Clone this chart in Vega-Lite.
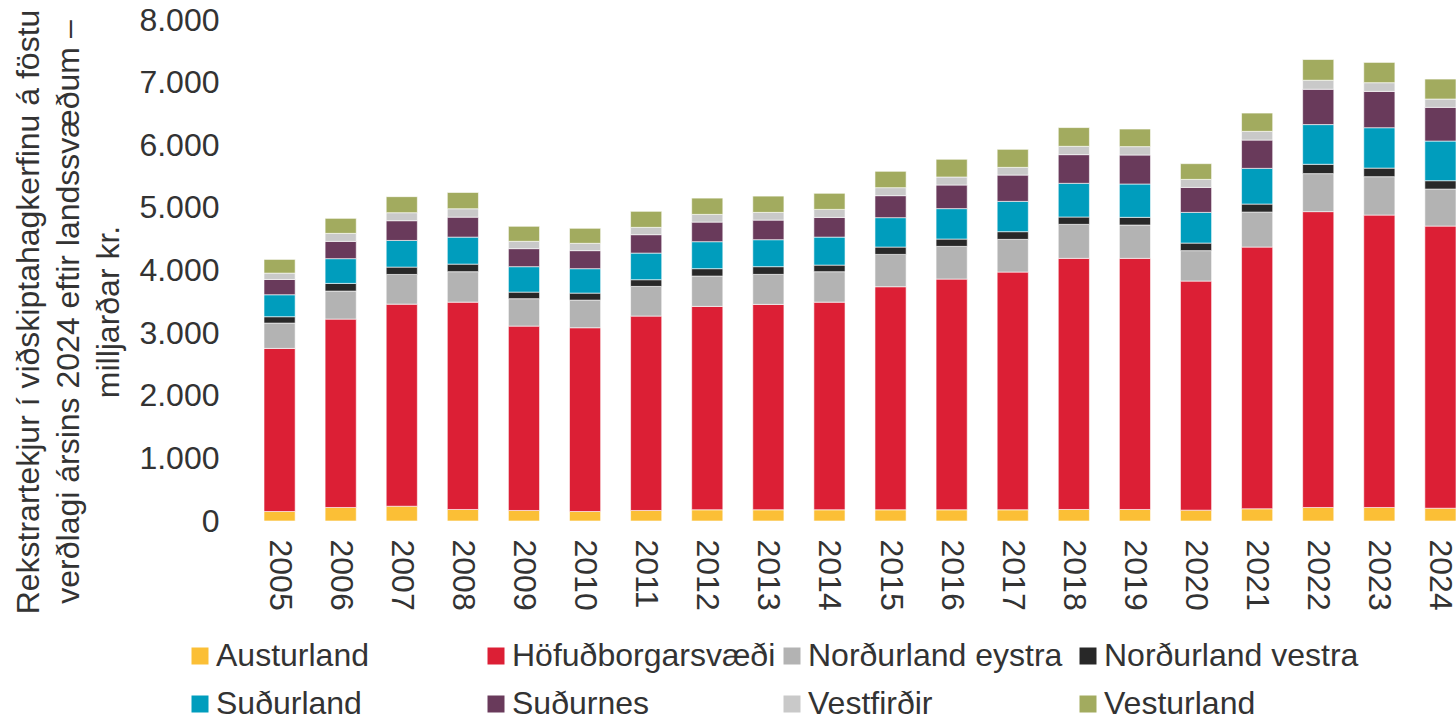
{
  "$schema": "https://vega.github.io/schema/vega-lite/v6.json",
  "width": 1192,
  "height": 501,
  "autosize": {"type": "none"},
  "padding": {"left": 264, "top": 20, "right": 0, "bottom": 199},
  "background": "white",
  "config": {"view": {"stroke": null}, "font": "Liberation Sans"},
  "data": {"values": [
    {"year": 2005, "region": "Austurland", "value": 152},
    {"year": 2005, "region": "Höfuðborgarsvæði", "value": 2604},
    {"year": 2005, "region": "Norðurland eystra", "value": 404},
    {"year": 2005, "region": "Norðurland vestra", "value": 102},
    {"year": 2005, "region": "Suðurland", "value": 351},
    {"year": 2005, "region": "Suðurnes", "value": 244},
    {"year": 2005, "region": "Vestfirðir", "value": 101},
    {"year": 2005, "region": "Vesturland", "value": 219},
    {"year": 2006, "region": "Austurland", "value": 216},
    {"year": 2006, "region": "Höfuðborgarsvæði", "value": 3008},
    {"year": 2006, "region": "Norðurland eystra", "value": 447},
    {"year": 2006, "region": "Norðurland vestra", "value": 123},
    {"year": 2006, "region": "Suðurland", "value": 395},
    {"year": 2006, "region": "Suðurnes", "value": 276},
    {"year": 2006, "region": "Vestfirðir", "value": 128},
    {"year": 2006, "region": "Vesturland", "value": 240},
    {"year": 2007, "region": "Austurland", "value": 236},
    {"year": 2007, "region": "Höfuðborgarsvæði", "value": 3227},
    {"year": 2007, "region": "Norðurland eystra", "value": 474},
    {"year": 2007, "region": "Norðurland vestra", "value": 117},
    {"year": 2007, "region": "Suðurland", "value": 426},
    {"year": 2007, "region": "Suðurnes", "value": 315},
    {"year": 2007, "region": "Vestfirðir", "value": 128},
    {"year": 2007, "region": "Vesturland", "value": 256},
    {"year": 2008, "region": "Austurland", "value": 184},
    {"year": 2008, "region": "Höfuðborgarsvæði", "value": 3311},
    {"year": 2008, "region": "Norðurland eystra", "value": 486},
    {"year": 2008, "region": "Norðurland vestra", "value": 121},
    {"year": 2008, "region": "Suðurland", "value": 431},
    {"year": 2008, "region": "Suðurnes", "value": 319},
    {"year": 2008, "region": "Vestfirðir", "value": 134},
    {"year": 2008, "region": "Vesturland", "value": 260},
    {"year": 2009, "region": "Austurland", "value": 168},
    {"year": 2009, "region": "Höfuðborgarsvæði", "value": 2944},
    {"year": 2009, "region": "Norðurland eystra", "value": 438},
    {"year": 2009, "region": "Norðurland vestra", "value": 105},
    {"year": 2009, "region": "Suðurland", "value": 406},
    {"year": 2009, "region": "Suðurnes", "value": 288},
    {"year": 2009, "region": "Vestfirðir", "value": 117},
    {"year": 2009, "region": "Vesturland", "value": 240},
    {"year": 2010, "region": "Austurland", "value": 152},
    {"year": 2010, "region": "Höfuðborgarsvæði", "value": 2934},
    {"year": 2010, "region": "Norðurland eystra", "value": 441},
    {"year": 2010, "region": "Norðurland vestra", "value": 112},
    {"year": 2010, "region": "Suðurland", "value": 390},
    {"year": 2010, "region": "Suðurnes", "value": 288},
    {"year": 2010, "region": "Vestfirðir", "value": 117},
    {"year": 2010, "region": "Vesturland", "value": 240},
    {"year": 2011, "region": "Austurland", "value": 168},
    {"year": 2011, "region": "Höfuðborgarsvæði", "value": 3104},
    {"year": 2011, "region": "Norðurland eystra", "value": 474},
    {"year": 2011, "region": "Norðurland vestra", "value": 107},
    {"year": 2011, "region": "Suðurland", "value": 425},
    {"year": 2011, "region": "Suðurnes", "value": 294},
    {"year": 2011, "region": "Vestfirðir", "value": 117},
    {"year": 2011, "region": "Vesturland", "value": 256},
    {"year": 2012, "region": "Austurland", "value": 179},
    {"year": 2012, "region": "Höfuðborgarsvæði", "value": 3248},
    {"year": 2012, "region": "Norðurland eystra", "value": 484},
    {"year": 2012, "region": "Norðurland vestra", "value": 118},
    {"year": 2012, "region": "Suðurland", "value": 431},
    {"year": 2012, "region": "Suðurnes", "value": 313},
    {"year": 2012, "region": "Vestfirðir", "value": 123},
    {"year": 2012, "region": "Vesturland", "value": 260},
    {"year": 2013, "region": "Austurland", "value": 179},
    {"year": 2013, "region": "Höfuðborgarsvæði", "value": 3280},
    {"year": 2013, "region": "Norðurland eystra", "value": 479},
    {"year": 2013, "region": "Norðurland vestra", "value": 123},
    {"year": 2013, "region": "Suðurland", "value": 431},
    {"year": 2013, "region": "Suðurnes", "value": 313},
    {"year": 2013, "region": "Vestfirðir", "value": 123},
    {"year": 2013, "region": "Vesturland", "value": 260},
    {"year": 2014, "region": "Austurland", "value": 179},
    {"year": 2014, "region": "Höfuðborgarsvæði", "value": 3316},
    {"year": 2014, "region": "Norðurland eystra", "value": 486},
    {"year": 2014, "region": "Norðurland vestra", "value": 105},
    {"year": 2014, "region": "Suðurland", "value": 447},
    {"year": 2014, "region": "Suðurnes", "value": 315},
    {"year": 2014, "region": "Vestfirðir", "value": 128},
    {"year": 2014, "region": "Vesturland", "value": 256},
    {"year": 2015, "region": "Austurland", "value": 179},
    {"year": 2015, "region": "Höfuðborgarsvæði", "value": 3562},
    {"year": 2015, "region": "Norðurland eystra", "value": 516},
    {"year": 2015, "region": "Norðurland vestra", "value": 117},
    {"year": 2015, "region": "Suðurland", "value": 470},
    {"year": 2015, "region": "Suðurnes", "value": 351},
    {"year": 2015, "region": "Vestfirðir", "value": 128},
    {"year": 2015, "region": "Vesturland", "value": 260},
    {"year": 2016, "region": "Austurland", "value": 179},
    {"year": 2016, "region": "Höfuðborgarsvæði", "value": 3684},
    {"year": 2016, "region": "Norðurland eystra", "value": 522},
    {"year": 2016, "region": "Norðurland vestra", "value": 117},
    {"year": 2016, "region": "Suðurland", "value": 486},
    {"year": 2016, "region": "Suðurnes", "value": 377},
    {"year": 2016, "region": "Vestfirðir", "value": 128},
    {"year": 2016, "region": "Vesturland", "value": 283},
    {"year": 2017, "region": "Austurland", "value": 179},
    {"year": 2017, "region": "Höfuðborgarsvæði", "value": 3796},
    {"year": 2017, "region": "Norðurland eystra", "value": 522},
    {"year": 2017, "region": "Norðurland vestra", "value": 123},
    {"year": 2017, "region": "Suðurland", "value": 484},
    {"year": 2017, "region": "Suðurnes", "value": 420},
    {"year": 2017, "region": "Vestfirðir", "value": 123},
    {"year": 2017, "region": "Vesturland", "value": 288},
    {"year": 2018, "region": "Austurland", "value": 184},
    {"year": 2018, "region": "Höfuðborgarsvæði", "value": 4010},
    {"year": 2018, "region": "Norðurland eystra", "value": 543},
    {"year": 2018, "region": "Norðurland vestra", "value": 117},
    {"year": 2018, "region": "Suðurland", "value": 538},
    {"year": 2018, "region": "Suðurnes", "value": 458},
    {"year": 2018, "region": "Vestfirðir", "value": 133},
    {"year": 2018, "region": "Vesturland", "value": 299},
    {"year": 2019, "region": "Austurland", "value": 184},
    {"year": 2019, "region": "Höfuðborgarsvæði", "value": 4010},
    {"year": 2019, "region": "Norðurland eystra", "value": 532},
    {"year": 2019, "region": "Norðurland vestra", "value": 123},
    {"year": 2019, "region": "Suðurland", "value": 532},
    {"year": 2019, "region": "Suðurnes", "value": 463},
    {"year": 2019, "region": "Vestfirðir", "value": 134},
    {"year": 2019, "region": "Vesturland", "value": 281},
    {"year": 2020, "region": "Austurland", "value": 173},
    {"year": 2020, "region": "Höfuðborgarsvæði", "value": 3658},
    {"year": 2020, "region": "Norðurland eystra", "value": 486},
    {"year": 2020, "region": "Norðurland vestra", "value": 121},
    {"year": 2020, "region": "Suðurland", "value": 490},
    {"year": 2020, "region": "Suðurnes", "value": 399},
    {"year": 2020, "region": "Vestfirðir", "value": 128},
    {"year": 2020, "region": "Vesturland", "value": 251},
    {"year": 2021, "region": "Austurland", "value": 195},
    {"year": 2021, "region": "Höfuðborgarsvæði", "value": 4179},
    {"year": 2021, "region": "Norðurland eystra", "value": 559},
    {"year": 2021, "region": "Norðurland vestra", "value": 128},
    {"year": 2021, "region": "Suðurland", "value": 570},
    {"year": 2021, "region": "Suðurnes", "value": 452},
    {"year": 2021, "region": "Vestfirðir", "value": 139},
    {"year": 2021, "region": "Vesturland", "value": 292},
    {"year": 2022, "region": "Austurland", "value": 216},
    {"year": 2022, "region": "Höfuðborgarsvæði", "value": 4724},
    {"year": 2022, "region": "Norðurland eystra", "value": 607},
    {"year": 2022, "region": "Norðurland vestra", "value": 149},
    {"year": 2022, "region": "Suðurland", "value": 634},
    {"year": 2022, "region": "Suðurnes", "value": 564},
    {"year": 2022, "region": "Vestfirðir", "value": 144},
    {"year": 2022, "region": "Vesturland", "value": 331},
    {"year": 2023, "region": "Austurland", "value": 216},
    {"year": 2023, "region": "Höfuðborgarsvæði", "value": 4669},
    {"year": 2023, "region": "Norðurland eystra", "value": 613},
    {"year": 2023, "region": "Norðurland vestra", "value": 137},
    {"year": 2023, "region": "Suðurland", "value": 645},
    {"year": 2023, "region": "Suðurnes", "value": 580},
    {"year": 2023, "region": "Vestfirðir", "value": 139},
    {"year": 2023, "region": "Vesturland", "value": 324},
    {"year": 2024, "region": "Austurland", "value": 204},
    {"year": 2024, "region": "Höfuðborgarsvæði", "value": 4505},
    {"year": 2024, "region": "Norðurland eystra", "value": 591},
    {"year": 2024, "region": "Norðurland vestra", "value": 134},
    {"year": 2024, "region": "Suðurland", "value": 633},
    {"year": 2024, "region": "Suðurnes", "value": 538},
    {"year": 2024, "region": "Vestfirðir", "value": 133},
    {"year": 2024, "region": "Vesturland", "value": 319}
  ]},
  "mark": {"type": "bar", "stroke": "#ffffff", "strokeWidth": 0.6},
  "encoding": {
    "x": {
      "field": "year", "type": "ordinal",
      "scale": {"paddingInner": 0.49, "paddingOuter": 0},
      "axis": {"title": null, "labelAngle": 90, "labelAlign": "left", "labelBaseline": "middle", "labelPadding": 18, "ticks": false, "domain": false, "labelFontSize": 32, "labelColor": "#333333", "labelFont": "Liberation Sans"}
    },
    "y": {
      "field": "value", "type": "quantitative", "stack": "zero",
      "scale": {"domain": [0, 8000]},
      "axis": {
        "values": [0, 1000, 2000, 3000, 4000, 5000, 6000, 7000, 8000],
        "grid": false, "domain": false, "ticks": false, "labelPadding": 45,
        "labelFontSize": 32, "labelColor": "#333333", "labelFont": "Liberation Sans",
        "labelExpr": "replace(format(datum.value, ','), ',', '.')",
        "title": ["Rekstrartekjur í viðskiptahagkerfinu á föstu", "verðlagi ársins 2024 eftir landssvæðum –", "milljarðar kr."],
        "titleFontSize": 32, "titleFontWeight": "normal", "titleColor": "#333333", "titleFont": "Liberation Sans",
        "titleX": -251, "titleY": 291.5, "titleAngle": -90, "titleAlign": "center", "titleBaseline": "top", "titleLineHeight": 40
      }
    },
    "color": {
      "field": "region", "type": "nominal",
      "scale": {
        "domain": ["Austurland", "Höfuðborgarsvæði", "Norðurland eystra", "Norðurland vestra", "Suðurland", "Suðurnes", "Vestfirðir", "Vesturland"],
        "range": ["#FBBF36", "#DC1F35", "#B3B3B3", "#282828", "#009DBD", "#693A5B", "#C9C9C9", "#A2AB5F"]
      },
      "legend": {
        "orient": "none", "legendX": -80, "legendY": 620, "direction": "horizontal", "columns": 4,
        "title": null, "padding": 0, "labelFontSize": 32, "labelColor": "#333333", "labelFont": "Liberation Sans",
        "symbolType": "square", "symbolSize": 289, "symbolStrokeWidth": 0, "labelOffset": 0,
        "columnPadding": -2, "rowPadding": 16, "gridAlign": "all", "labelLimit": 400
      }
    },
    "order": {"field": "region", "sort": "ascending"}
  }
}
